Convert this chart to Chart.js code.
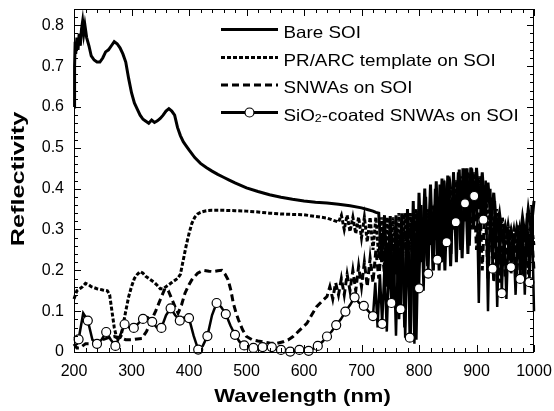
<!DOCTYPE html>
<html>
<head>
<meta charset="utf-8">
<script src="https://cdn.jsdelivr.net/npm/chart.js@4.4.1/dist/chart.umd.min.js"></script>
<style>
  html, body { margin: 0; padding: 0; background: #fff; }
  #wrap { width: 554px; height: 411px; }
</style>
</head>
<body>
<div id="wrap"><canvas id="chart" width="554" height="411"></canvas></div>
<script>
// tick labels
const xTicks = [200, 300, 400, 500, 600, 700, 800, 900, 1000];
const yTicks = [0, 0.1, 0.2, 0.3, 0.4, 0.5, 0.6, 0.7, 0.8];

// [wavelength nm, reflectivity]
const bareSOI = [
  [200,0.60],[201,0.70],[202,0.76],[203,0.73],[205,0.77],[207,0.74],[209,0.78],[211,0.75],[213,0.79],[215,0.81],
  [217,0.78],[219,0.80],[222,0.77],[226,0.75],[230,0.725],[235,0.715],[240,0.71],[245,0.71],[250,0.72],[255,0.735],
  [260,0.74],[265,0.75],[270,0.76],[275,0.755],[280,0.745],[285,0.73],[290,0.71],[295,0.67],[300,0.635],[305,0.61],
  [310,0.595],[315,0.58],[320,0.57],[325,0.565],[330,0.56],[335,0.568],[340,0.562],[345,0.566],[350,0.572],[355,0.58],
  [360,0.59],[365,0.596],[370,0.59],[375,0.58],[380,0.55],[385,0.53],[390,0.515],[395,0.505],[400,0.495],[410,0.476],
  [420,0.462],[430,0.452],[440,0.443],[450,0.435],[460,0.428],[470,0.421],[480,0.414],[490,0.408],[500,0.402],[520,0.393],
  [540,0.385],[560,0.379],[580,0.374],[600,0.37],[620,0.367],[640,0.365],[660,0.362],[680,0.358],[700,0.353],[710,0.349],
  [720,0.345],[725,0.342],[730,0.34],[735,0.22],[740,0.335],[745,0.16],[750,0.333],[755,0.11],[760,0.335],[765,0.08],
  [770,0.34],[775,0.06],[780,0.35],[785,0.04],[790,0.37],[795,0.03],[800,0.39],[805,0.22],[810,0.40],[815,0.21],
  [820,0.41],[825,0.20],[830,0.418],[835,0.20],[840,0.425],[845,0.20],[850,0.432],[855,0.21],[860,0.44],[865,0.22],
  [870,0.447],[875,0.23],[880,0.45],[885,0.24],[890,0.452],[895,0.30],[900,0.451],[905,0.35],[910,0.44],[915,0.33],
  [920,0.415],[925,0.32],[930,0.39],[935,0.30],[940,0.34],[945,0.28],[950,0.31],[955,0.27],[960,0.30],[965,0.26],
  [970,0.305],[975,0.27],[980,0.33],[985,0.28],[990,0.35],[995,0.30],[1000,0.37]
];

const prArc = [
  [200,0.13],[205,0.15],[210,0.155],[215,0.16],[220,0.168],[225,0.165],[230,0.16],[240,0.155],[250,0.152],[258,0.15],
  [262,0.14],[266,0.10],[270,0.06],[274,0.035],[278,0.03],[282,0.04],[286,0.07],[290,0.10],[295,0.135],[300,0.16],
  [305,0.18],[310,0.19],[315,0.197],[320,0.193],[325,0.185],[330,0.18],[335,0.175],[340,0.17],[345,0.163],[350,0.155],
  [355,0.155],[360,0.16],[365,0.165],[370,0.17],[375,0.175],[380,0.18],[385,0.19],[390,0.225],[395,0.26],[400,0.29],
  [405,0.315],[410,0.33],[415,0.338],[420,0.342],[430,0.346],[440,0.347],[450,0.347],[460,0.347],[480,0.346],[500,0.345],
  [520,0.343],[540,0.34],[560,0.338],[580,0.337],[600,0.336],[620,0.332],[640,0.328],[650,0.323],[660,0.318],[665,0.335],
  [670,0.30],[675,0.335],[680,0.295],[685,0.33],[690,0.29],[695,0.33],[700,0.28],[705,0.33],[710,0.27],[715,0.33],
  [720,0.25],[725,0.33],[730,0.23],[735,0.33],[740,0.21],[745,0.33],[750,0.20],[755,0.33],[760,0.19],[765,0.34],
  [770,0.18],[775,0.34],[780,0.17],[785,0.34],[790,0.18],[795,0.35],[800,0.25],[805,0.33],[810,0.27],[815,0.35],
  [820,0.28],[825,0.36],[830,0.30],[835,0.38],[840,0.31],[845,0.39],[850,0.33],[855,0.40],[860,0.34],[865,0.42],
  [870,0.35],[875,0.43],[880,0.36],[885,0.44],[890,0.36],[895,0.44],[900,0.35],[905,0.43],[910,0.32],[915,0.41],
  [920,0.30],[925,0.38],[930,0.28],[935,0.35],[940,0.27],[945,0.33],[950,0.26],[955,0.31],[960,0.26],[965,0.30],
  [970,0.25],[975,0.30],[980,0.25],[985,0.31],[990,0.25],[995,0.32],[1000,0.26]
];

const snwa = [
  [200,0.02],[205,0.01],[210,0.01],[215,0.015],[220,0.02],[230,0.02],[240,0.025],[250,0.03],[260,0.035],[270,0.038],
  [280,0.035],[290,0.03],[300,0.03],[310,0.032],[318,0.033],[326,0.05],[334,0.075],[342,0.10],[350,0.128],[358,0.155],
  [364,0.15],[370,0.13],[376,0.11],[381,0.095],[387,0.115],[393,0.144],[400,0.165],[405,0.177],[415,0.193],[425,0.20],
  [435,0.198],[442,0.197],[450,0.199],[457,0.20],[463,0.19],[468,0.177],[473,0.15],[477,0.12],[482,0.095],[486,0.079],
  [493,0.055],[500,0.038],[510,0.03],[520,0.027],[529,0.025],[540,0.022],[552,0.021],[564,0.025],[573,0.03],[581,0.038],
  [587,0.046],[593,0.054],[599,0.062],[605,0.07],[613,0.09],[622,0.111],[631,0.124],[640,0.136],[645,0.16],[650,0.13],
  [655,0.17],[660,0.14],[665,0.18],[670,0.14],[675,0.19],[680,0.15],[685,0.20],[690,0.15],[695,0.21],[700,0.16],
  [705,0.22],[710,0.16],[715,0.23],[720,0.17],[725,0.25],[730,0.18],[735,0.26],[740,0.19],[745,0.27],[750,0.19],
  [755,0.28],[760,0.20],[765,0.29],[770,0.21],[775,0.30],[780,0.22],[785,0.31],[790,0.20],[795,0.32],[800,0.22],
  [805,0.31],[810,0.25],[815,0.32],[820,0.26],[825,0.33],[830,0.27],[835,0.34],[840,0.28],[845,0.35],[850,0.29],
  [855,0.37],[860,0.30],[865,0.38],[870,0.31],[875,0.40],[880,0.32],[885,0.41],[890,0.30],[895,0.42],[900,0.25],
  [905,0.40],[910,0.20],[915,0.37],[920,0.18],[925,0.34],[930,0.17],[935,0.31],[940,0.17],[945,0.29],[950,0.18],
  [955,0.28],[960,0.19],[965,0.28],[970,0.19],[975,0.29],[980,0.19],[985,0.30],[990,0.19],[995,0.31],[1000,0.20]
];

const sio2Snwa = [
  [200,0.038],[208,0.031],[216,0.095],[224,0.077],[232,0.03],[240,0.02],[248,0.03],[256,0.049],[264,0.03],[272,0.015],
  [280,0.04],[288,0.068],[296,0.06],[304,0.059],[312,0.07],[320,0.081],[328,0.085],[336,0.074],[344,0.06],[352,0.059],
  [360,0.09],[368,0.107],[376,0.09],[384,0.077],[392,0.085],[400,0.083],[408,0.04],[416,0.006],[424,0.015],[432,0.039],
  [440,0.09],[448,0.12],[456,0.11],[464,0.093],[472,0.065],[480,0.042],[488,0.025],[496,0.016],[504,0.012],[512,0.01],
  [520,0.012],[528,0.012],[536,0.012],[544,0.012],[552,0.008],[560,0.005],[568,0.003],[576,0.001],[584,0.002],[592,0.005],
  [600,0.004],[608,0.003],[616,0.008],[624,0.015],[632,0.025],[640,0.038],[648,0.05],[656,0.066],[664,0.08],[672,0.099],
  [680,0.115],[688,0.134],[696,0.12],[704,0.113],[712,0.10],[720,0.088],[724,0.17],[728,0.06],[732,0.19],[736,0.069],
  [740,0.21],[744,0.05],[748,0.23],[752,0.12],[756,0.25],[760,0.04],[764,0.27],[768,0.105],[772,0.29],[776,0.035],
  [780,0.31],[784,0.035],[788,0.33],[792,0.02],[796,0.34],[800,0.156],[804,0.36],[808,0.15],[812,0.38],[816,0.192],
  [820,0.39],[824,0.20],[828,0.40],[832,0.226],[836,0.41],[840,0.22],[844,0.42],[848,0.269],[852,0.43],[856,0.24],
  [860,0.44],[864,0.318],[868,0.44],[872,0.25],[876,0.45],[880,0.364],[884,0.45],[888,0.26],[892,0.45],[896,0.382],
  [900,0.44],[904,0.12],[908,0.43],[912,0.324],[916,0.42],[920,0.10],[924,0.40],[928,0.204],[932,0.37],[936,0.11],
  [940,0.33],[944,0.144],[948,0.31],[952,0.13],[956,0.30],[960,0.208],[964,0.29],[968,0.14],[972,0.31],[976,0.179],
  [980,0.32],[984,0.14],[988,0.34],[992,0.171],[996,0.36],[1000,0.10]
];

const FONT = 'Arial, "Liberation Sans", sans-serif';
const toXY = arr => arr.map(([x, y]) => ({ x, y }));

// circle marker every 16 nm starting at 208
const isMarker = x => x >= 208 && (x - 208) % 16 === 0;

// frame, inward ticks on all four sides, legend and stretched titles
const decor = {
  id: 'decor',
  afterDatasetsDraw(chart) {
    const { ctx, chartArea: a, scales: { x, y } } = chart;
    ctx.save();
    ctx.strokeStyle = '#000';
    ctx.lineWidth = 1;
    ctx.strokeRect(a.left + 0.5, a.top + 0.5, a.right - a.left - 1, a.bottom - a.top);
    ctx.beginPath();
    for (let v = 200; v <= 1000; v += 20) {
      const px = Math.round(x.getPixelForValue(v)) + 0.5;
      const len = v % 100 === 0 ? 7 : 4;
      ctx.moveTo(px, a.bottom); ctx.lineTo(px, a.bottom - len);
      ctx.moveTo(px, a.top); ctx.lineTo(px, a.top + len);
    }
    for (let i = 0; i <= 42; i++) {
      const v = i * 0.02;
      const py = Math.round(y.getPixelForValue(v)) + 0.5;
      const len = i % 5 === 0 ? 7 : 4;
      ctx.moveTo(a.left, py); ctx.lineTo(a.left + len, py);
      ctx.moveTo(a.right, py); ctx.lineTo(a.right - len, py);
    }
    ctx.stroke();
    ctx.restore();
  },
  afterDraw(chart) {
    const ctx = chart.ctx;
    ctx.save();
    ctx.fillStyle = '#000';

    // legend
    const rows = [
      { ds: 0, y: 29.5, parts: [['Bare SOI', 0]] },
      { ds: 1, y: 57.5, parts: [['PR/ARC template on SOI', 0]] },
      { ds: 2, y: 85, parts: [['SNWAs on SOI', 0]] },
      { ds: 3, y: 112.5, parts: [['SiO', 0], ['2', 1], ['-coated SNWAs on SOI', 0]] }
    ];
    rows.forEach(r => {
      const d = chart.data.datasets[r.ds];
      ctx.save();
      ctx.strokeStyle = '#000';
      ctx.lineWidth = 3;
      ctx.setLineDash(d.borderDash || []);
      ctx.beginPath();
      ctx.moveTo(221, r.y); ctx.lineTo(278, r.y);
      ctx.stroke();
      ctx.setLineDash([]);
      if (r.ds === 3) {
        ctx.beginPath();
        ctx.arc(249.5, r.y, 4.5, 0, Math.PI * 2);
        ctx.fillStyle = '#fff'; ctx.fill();
        ctx.lineWidth = 1.2; ctx.stroke();
      }
      ctx.restore();
      ctx.save();
      ctx.translate(283.5, r.y + 8);
      ctx.scale(1.14, 1);
      ctx.textBaseline = 'alphabetic';
      let cx = 0;
      r.parts.forEach(([t, sub]) => {
        ctx.font = sub ? '11px ' + FONT : '16.5px ' + FONT;
        ctx.fillText(t, cx, sub ? 1 : 0);
        cx += ctx.measureText(t).width;
      });
      ctx.restore();
    });

    // axis titles
    ctx.save();
    ctx.translate(302.5, 402);
    ctx.scale(1.19, 1);
    ctx.font = 'bold 18.5px ' + FONT;
    ctx.textAlign = 'center';
    ctx.textBaseline = 'alphabetic';
    ctx.fillText('Wavelength (nm)', 0, 0);
    ctx.restore();

    ctx.save();
    ctx.translate(24, 179);
    ctx.rotate(-Math.PI / 2);
    ctx.scale(1.4, 1);
    ctx.font = 'bold 18px ' + FONT;
    ctx.textAlign = 'center';
    ctx.textBaseline = 'alphabetic';
    ctx.fillText('Reflectivity', 0, 0);
    ctx.restore();

    ctx.restore();
  }
};

new Chart(document.getElementById('chart'), {
  type: 'line',
  data: {
    datasets: [
      { label: 'Bare SOI', data: toXY(bareSOI), borderColor: '#000', borderWidth: 3,
        pointRadius: 0, order: 3 },
      { label: 'PR/ARC template on SOI', data: toXY(prArc), borderColor: '#000', borderWidth: 3,
        borderDash: [4, 2], pointRadius: 0, order: 2 },
      { label: 'SNWAs on SOI', data: toXY(snwa), borderColor: '#000', borderWidth: 3,
        borderDash: [7, 4], pointRadius: 0, order: 1 },
      { label: 'SiO2-coated SNWAs on SOI', data: toXY(sio2Snwa), borderColor: '#000', borderWidth: 2.5,
        pointRadius: c => isMarker(c.raw.x) ? 4.5 : 0,
        pointBackgroundColor: '#fff', pointBorderColor: '#000', pointBorderWidth: 1.2, order: 0 }
    ]
  },
  options: {
    responsive: false,
    devicePixelRatio: 1,
    animation: false,
    elements: { line: { tension: 0, fill: false, borderCapStyle: 'butt' } },
    datasets: { line: { clip: false } },
    layout: { padding: { top: 9, right: 20, left: 0, bottom: 0 } },
    plugins: { legend: { display: false }, tooltip: { enabled: false } },
    scales: {
      x: {
        type: 'linear', min: 200, max: 1000,
        afterFit: s => { s.height = 59; s.paddingLeft = 0; s.paddingRight = 0; },
        afterBuildTicks: s => { s.ticks = xTicks.map(v => ({ value: v })); },
        grid: { display: false, drawTicks: false },
        border: { display: false },
        ticks: { padding: 10, color: '#000', maxRotation: 0, autoSkip: false,
          font: { size: 16, family: FONT },
          callback: v => String(v) }
      },
      y: {
        type: 'linear', min: 0, max: 0.84,
        afterFit: s => { s.width = 74; s.paddingTop = 0; s.paddingBottom = 0; },
        afterBuildTicks: s => { s.ticks = yTicks.map(v => ({ value: v })); },
        grid: { display: false, drawTicks: false },
        border: { display: false },
        ticks: { padding: 10, color: '#000', autoSkip: false,
          font: { size: 16, family: FONT },
          callback: v => v === 0 ? '0' : v.toFixed(1) }
      }
    }
  },
  plugins: [decor]
});
</script>
</body>
</html>
